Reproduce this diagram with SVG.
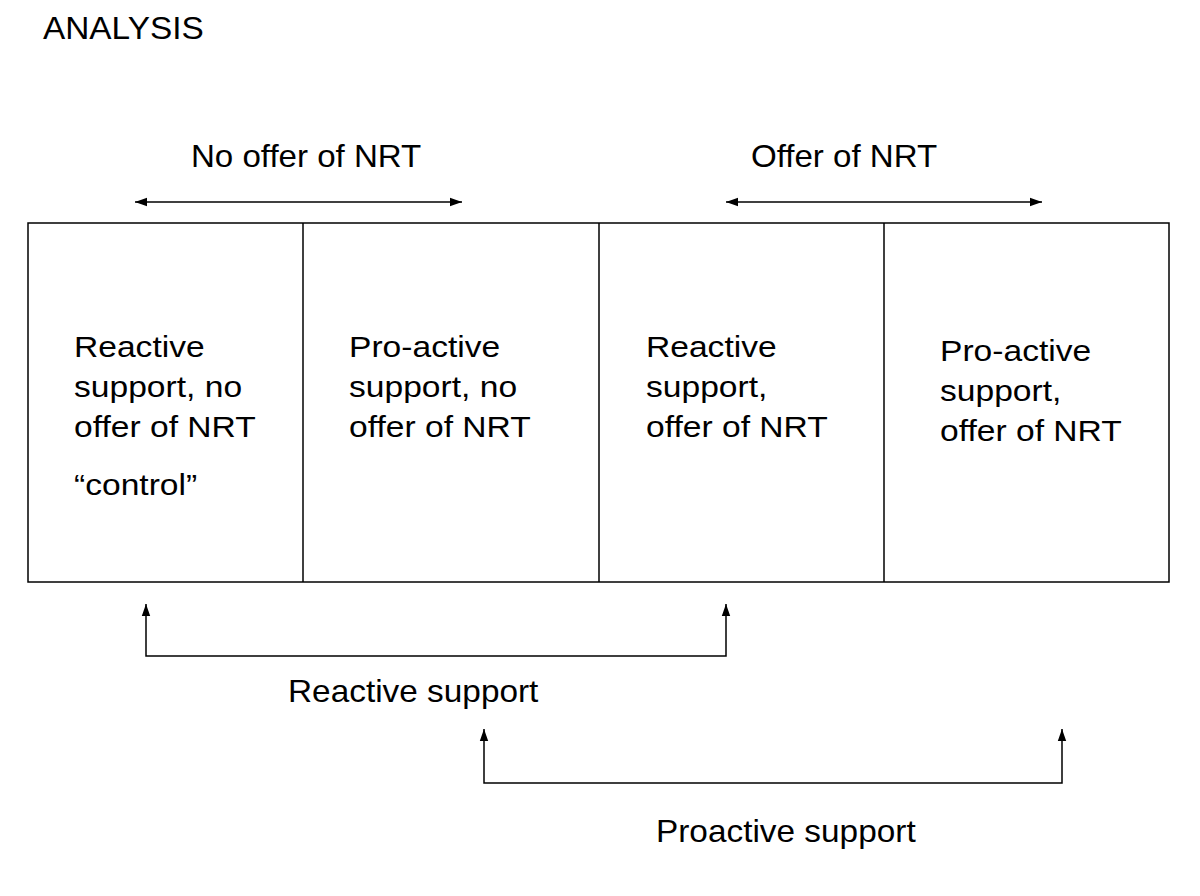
<svg xmlns="http://www.w3.org/2000/svg" width="1200" height="896" viewBox="0 0 1200 896">
<style>
text{font-family:"Liberation Sans",Arial,sans-serif;font-size:30px;fill:#000}
.big{font-size:31.5px}
.ln{stroke:#000;stroke-width:1.5;fill:none}
</style>
<defs>
<marker id="ah" markerWidth="13" markerHeight="10" refX="12" refY="5" orient="auto-start-reverse" markerUnits="userSpaceOnUse">
<path d="M0,0.8 L12,5 L0,9.2 Z" fill="#000"/>
</marker>
</defs>
<rect width="1200" height="896" fill="#fff"/>
<text class="big" transform="translate(43,39) scale(1.06,1)">ANALYSIS</text>
<g id="labels">
<text class="big" transform="translate(191,167) scale(1.05,1)">No offer of NRT</text>
<text class="big" transform="translate(751,167) scale(1.05,1)">Offer of NRT</text>
<text class="big" transform="translate(288,702) scale(1.06,1)">Reactive support</text>
<text class="big" transform="translate(656,842) scale(1.06,1)">Proactive support</text>
</g>
<g id="cells">
<rect class="ln" x="28" y="223" width="1141" height="359"/>
<line class="ln" x1="303" y1="223" x2="303" y2="582"/>
<line class="ln" x1="599" y1="223" x2="599" y2="582"/>
<line class="ln" x1="884" y1="223" x2="884" y2="582"/>
</g>
<g id="cell1"><text transform="translate(74,357) scale(1.12,1)"><tspan x="0" y="0">Reactive</tspan><tspan x="0" y="40">support, no</tspan><tspan x="0" y="80">offer of NRT</tspan><tspan x="0" y="138">“control”</tspan></text></g>
<g id="cell2"><text transform="translate(349,357) scale(1.12,1)"><tspan x="0" y="0">Pro-active</tspan><tspan x="0" y="40">support, no</tspan><tspan x="0" y="80">offer of NRT</tspan></text></g>
<g id="cell3"><text transform="translate(646,357) scale(1.12,1)"><tspan x="0" y="0">Reactive</tspan><tspan x="0" y="40">support,</tspan><tspan x="0" y="80">offer of NRT</tspan></text></g>
<g id="cell4"><text transform="translate(940,361) scale(1.12,1)"><tspan x="0" y="0">Pro-active</tspan><tspan x="0" y="40">support,</tspan><tspan x="0" y="80">offer of NRT</tspan></text></g>
<g id="connectors">
<line class="ln" x1="135" y1="202" x2="462" y2="202" marker-start="url(#ah)" marker-end="url(#ah)"/>
<line class="ln" x1="726" y1="202" x2="1042" y2="202" marker-start="url(#ah)" marker-end="url(#ah)"/>
<polyline class="ln" points="146,604 146,656 726,656 726,604" marker-start="url(#ah)" marker-end="url(#ah)"/>
<polyline class="ln" points="484,729 484,783 1062,783 1062,729" marker-start="url(#ah)" marker-end="url(#ah)"/>
</g>
</svg>
